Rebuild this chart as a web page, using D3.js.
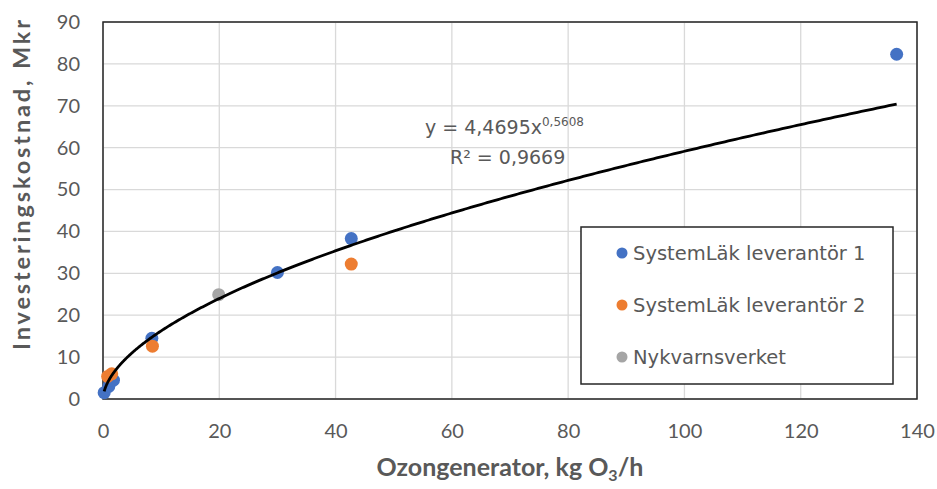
<!DOCTYPE html>
<html>
<head>
<meta charset="utf-8">
<script src="https://cdn.jsdelivr.net/npm/d3@7"></script>
<style>
  body { margin: 0; background: #fff; }
  svg { display: block; }
</style>
</head>
<body>
<div class="chart"></div>
<script>
// values
const seriesNames = ['SystemLäk leverantör 1', 'SystemLäk leverantör 2', 'Nykvarnsverket'];
const seriesColors = ['#4472c4', '#ed7d31', '#a5a5a5'];
const lev1X = [0.2, 1.0, 1.8, 8.4, 30.0, 42.7, 136.5];
const lev1Y = [1.5, 3.0, 4.5, 14.5, 30.2, 38.3, 82.3];
const lev2X = [0.8, 1.5, 8.5, 42.7];
const lev2Y = [5.4, 6.0, 12.6, 32.2];
const nykX = [19.9];
const nykY = [24.9];
const xTicks = [0, 20, 40, 60, 80, 100, 120, 140];
const yTicks = [0, 10, 20, 30, 40, 50, 60, 70, 80, 90];
// power trendline as printed on the chart
const trendA = 4.4695, trendB = 0.5608;
const trendLabel = 'y = 4,4695x';
const trendExp = '0,5608';
const r2Label = 'R² = 0,9669';

const chartWidth = 937, chartHeight = 489;
const plot = { left: 103, right: 917, top: 22, bottom: 399 };
const tickFont = 'Lato, "Open Sans", sans-serif';
const boxFont = '"DejaVu Sans", Verdana, sans-serif';
const textColor = '#595959';

const svg = d3.select('div.chart').append('svg')
    .attr('width', chartWidth).attr('height', chartHeight);

const x = d3.scaleLinear().domain([0, 140]).range([plot.left, plot.right]);
const y = d3.scaleLinear().domain([0, 90]).range([plot.bottom, plot.top]);

// grid
const grid = svg.append('g').classed('grid', true);
grid.selectAll('line.gy').data(yTicks).enter().append('line')
    .attr('x1', plot.left).attr('x2', plot.right)
    .attr('y1', d => y(d)).attr('y2', d => y(d))
    .attr('stroke', '#d9d9d9').attr('stroke-width', 1.3);
grid.selectAll('line.gx').data(xTicks).enter().append('line')
    .attr('y1', plot.top).attr('y2', plot.bottom)
    .attr('x1', d => x(d)).attr('x2', d => x(d))
    .attr('stroke', '#d9d9d9').attr('stroke-width', 1.3);

// axes (labels only, border drawn separately)
const xAxis = d3.axisBottom(x).tickValues(xTicks).tickSize(0).tickPadding(25);
svg.append('g').classed('x-axis', true)
    .attr('transform', `translate(0, ${plot.bottom})`).call(xAxis)
    .call(g => g.select('.domain').remove());
const yAxis = d3.axisLeft(y).tickValues(yTicks).tickSize(0).tickPadding(23);
svg.append('g').classed('y-axis', true)
    .attr('transform', `translate(${plot.left}, 0)`).call(yAxis)
    .call(g => g.select('.domain').remove());
svg.selectAll('.x-axis text, .y-axis text')
    .attr('font-family', tickFont).attr('font-size', 20).attr('fill', textColor);

// plot border
svg.append('rect')
    .attr('x', plot.left).attr('y', plot.top)
    .attr('width', plot.right - plot.left).attr('height', plot.bottom - plot.top)
    .attr('fill', 'none').attr('stroke', '#262626').attr('stroke-width', 1.5);

// points
const series = [
    lev1X.map((v, i) => ({ x: v, y: lev1Y[i], s: 0 })),
    lev2X.map((v, i) => ({ x: v, y: lev2Y[i], s: 1 })),
    nykX.map((v, i) => ({ x: v, y: nykY[i], s: 2 }))
];
const pts = svg.append('g').classed('points', true);
[2, 0, 1].forEach(k => {
    pts.selectAll(`circle.s${k}`).data(series[k]).enter().append('circle')
        .attr('class', `s${k}`)
        .attr('cx', d => x(d.x)).attr('cy', d => y(d.y)).attr('r', 6.5)
        .attr('fill', seriesColors[k]);
});

// trendline
const allX = lev1X.concat(lev2X, nykX);
const xs = d3.range(0, 401).map(i => d3.min(allX) + (d3.max(allX) - d3.min(allX)) * Math.pow(i / 400, 2));
const line = d3.line().x(d => x(d)).y(d => y(trendA * Math.pow(d, trendB)));
svg.append('path').datum(xs)
    .attr('d', line)
    .attr('fill', 'none').attr('stroke', '#000').attr('stroke-width', 2.8);

// equation
const eq = svg.append('text')
    .attr('x', 425).attr('y', 134)
    .attr('font-family', boxFont).attr('font-size', 19).attr('fill', textColor);
eq.append('tspan').text(trendLabel);
eq.append('tspan').attr('dy', -8).attr('font-size', 12).text(trendExp);
svg.append('text')
    .attr('x', 450).attr('y', 164)
    .attr('font-family', boxFont).attr('font-size', 19).attr('fill', textColor)
    .text(r2Label);

// legend
const legend = svg.append('g').classed('legend', true);
legend.append('rect')
    .attr('x', 581).attr('y', 227).attr('width', 312).attr('height', 157)
    .attr('fill', '#fff').attr('stroke', '#262626').attr('stroke-width', 1.5);
seriesNames.forEach((name, i) => {
    const ly = 253 + i * 52;
    legend.append('circle').attr('cx', 622).attr('cy', ly).attr('r', 5.5).attr('fill', seriesColors[i]);
    legend.append('text').attr('x', 633).attr('y', ly + 7)
        .attr('font-family', boxFont).attr('font-size', 19.5).attr('fill', textColor)
        .text(name);
});

// axis titles
const xt = svg.append('text')
    .attr('x', 510).attr('y', 476).attr('text-anchor', 'middle')
    .attr('font-family', tickFont).attr('font-size', 25).attr('font-weight', 'bold').attr('fill', textColor);
xt.append('tspan').text('Ozongenerator, kg O');
xt.append('tspan').attr('dy', 5).attr('font-size', 16).text('3');
xt.append('tspan').attr('dy', -5).text('/h');
svg.append('text')
    .attr('transform', 'translate(30, 185) rotate(-90)')
    .attr('text-anchor', 'middle')
    .attr('textLength', 330).attr('lengthAdjust', 'spacing')
    .attr('font-family', tickFont).attr('font-size', 23.5).attr('font-weight', 'bold').attr('fill', textColor)
    .text('Investeringskostnad,  Mkr');
</script>
</body>
</html>
